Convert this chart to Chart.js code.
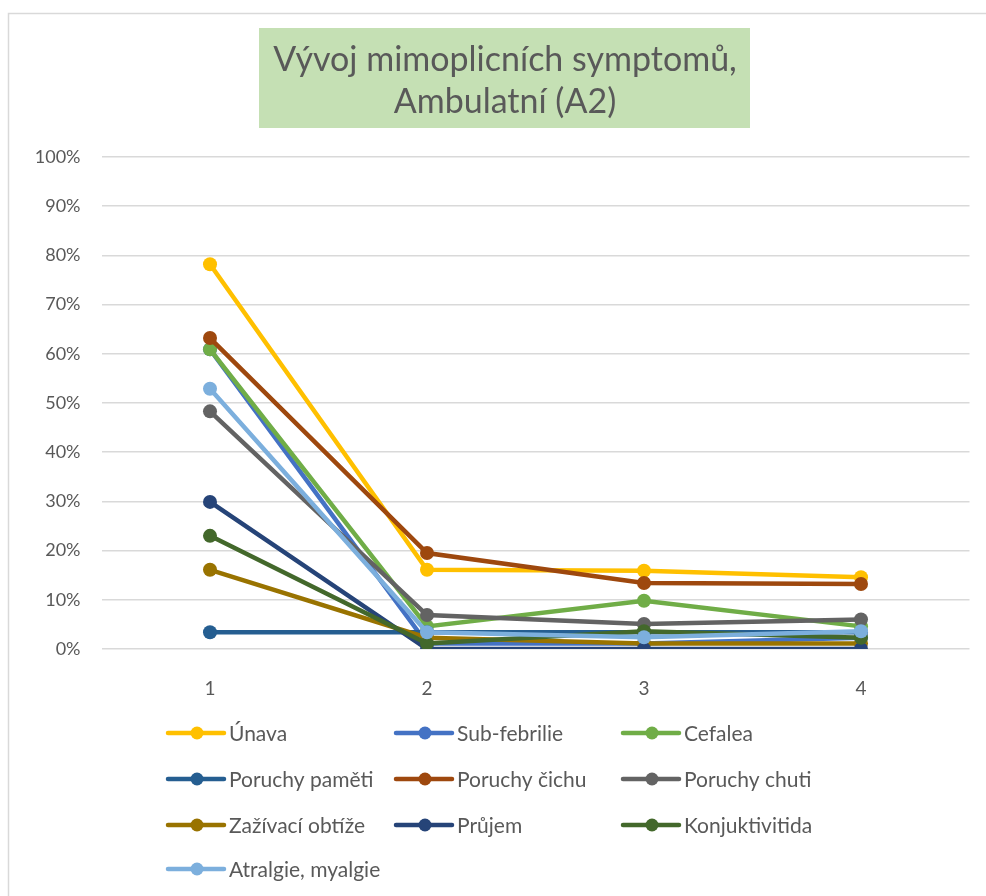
<!DOCTYPE html>
<html>
<head>
<meta charset="utf-8">
<script src="https://cdn.jsdelivr.net/npm/chart.js@4/dist/chart.umd.min.js"></script>
<style>
  html, body { margin: 0; padding: 0; background: #ffffff; }
  #wrap { width: 986px; height: 896px; position: relative; }
</style>
</head>
<body>
<div id="wrap"><canvas id="c" width="986" height="896"></canvas></div>
<script>
// Time points (visits)
const categories = ['1', '2', '3', '4'];

// Share of patients with each symptom, in percent
const unava      = [78.2, 16.1, 15.9, 14.6];
const subFebrilie = [60.9, 1.1, 1.1, 2.3];
const cefalea    = [60.9, 4.6, 9.8, 4.6];
const poruchyPameti = [3.4, 3.4, 3.4, 3.4];
const poruchyCichu  = [63.2, 19.5, 13.4, 13.2];
const poruchyChuti  = [48.3, 6.9, 5.1, 6.0];
const zazivaciObtize = [16.1, 2.3, 1.1, 1.1];
const prujem     = [29.9, 0.0, 0.0, 0.0];
const konjuktivitida = [23.0, 1.1, 3.6, 2.3];
const atralgie   = [52.9, 3.4, 2.4, 3.6];

const seriesNames = ['Únava', 'Sub-febrilie', 'Cefalea', 'Poruchy paměti', 'Poruchy čichu',
  'Poruchy chuti', 'Zažívací obtíže', 'Průjem', 'Konjuktivitida', 'Atralgie, myalgie'];
const seriesValues = [unava, subFebrilie, cefalea, poruchyPameti, poruchyCichu,
  poruchyChuti, zazivaciObtize, prujem, konjuktivitida, atralgie];
const seriesColors = ['#FFC000', '#4472C4', '#70AD47', '#255E91', '#9E480E',
  '#636363', '#997300', '#264478', '#43682B', '#7CAFDD'];

const FONT = 'Lato, "Open Sans", sans-serif';
const TEXT = '#595959';
const GRID = '#D9D9D9';

const datasets = seriesNames.map((name, i) => ({
  label: name,
  data: seriesValues[i],
  borderColor: seriesColors[i],
  backgroundColor: seriesColors[i],
  borderWidth: 4.5,
  pointRadius: 7,
  pointHoverRadius: 7,
  pointBorderWidth: 0,
  tension: 0,
  // later series sit on top of earlier ones
  order: seriesNames.length - i
}));

// Outer frame, boxed title and grid legend
const decorations = {
  id: 'decorations',
  beforeDraw(chart) {
    const ctx = chart.ctx;
    ctx.save();
    ctx.fillStyle = '#ffffff';
    ctx.fillRect(0, 0, chart.width, chart.height);
    ctx.strokeStyle = GRID;
    ctx.lineWidth = 1.5;
    ctx.beginPath();
    ctx.moveTo(8.5, chart.height + 5);
    ctx.lineTo(8.5, 13.5);
    ctx.lineTo(chart.width + 5, 13.5);
    ctx.stroke();

    // title box
    ctx.fillStyle = '#C5E0B4';
    ctx.fillRect(259, 28, 491, 100);
    ctx.fillStyle = TEXT;
    ctx.font = '34px ' + FONT;
    ctx.textAlign = 'center';
    ctx.textBaseline = 'middle';
    ctx.fillText('Vývoj mimoplicních symptomů,', 505, 60);
    ctx.fillText('Ambulatní (A2)', 505, 102);
    ctx.restore();
  },
  afterDraw(chart) {
    const ctx = chart.ctx;
    const colX = [168, 396, 623];
    const rowY = [733, 779, 825, 869];
    ctx.save();
    ctx.font = '21px ' + FONT;
    ctx.textAlign = 'left';
    ctx.textBaseline = 'middle';
    chart.data.datasets.forEach((ds, i) => {
      const x = colX[i % 3];
      const y = rowY[Math.floor(i / 3)];
      ctx.strokeStyle = ds.borderColor;
      ctx.lineWidth = 4.5;
      ctx.lineCap = 'round';
      ctx.beginPath();
      ctx.moveTo(x, y);
      ctx.lineTo(x + 56, y);
      ctx.stroke();
      ctx.fillStyle = ds.backgroundColor;
      ctx.beginPath();
      ctx.arc(x + 29, y, 6.5, 0, Math.PI * 2);
      ctx.fill();
      ctx.fillStyle = TEXT;
      ctx.fillText(ds.label, x + 61, y + 1);
    });
    ctx.restore();
  }
};

new Chart(document.getElementById('c'), {
  type: 'line',
  data: { labels: categories, datasets },
  plugins: [decorations],
  options: {
    responsive: false,
    animation: false,
    layout: { padding: { top: 157, left: 0, right: 16.5, bottom: 0 } },
    plugins: {
      legend: { display: false },
      title: { display: false },
      tooltip: { enabled: false }
    },
    scales: {
      x: {
        offset: true,
        grid: { display: false },
        border: { display: false },
        ticks: { color: TEXT, font: { family: FONT, size: 19 }, padding: 20 },
        afterFit(scale) { scale.height = 896 - 649; }
      },
      y: {
        min: 0,
        max: 100,
        ticks: {
          stepSize: 10,
          color: TEXT,
          font: { family: FONT, size: 18 },
          padding: 21,
          callback: v => v + '%'
        },
        grid: { color: GRID, lineWidth: 1.5, drawTicks: false },
        border: { display: false },
        afterFit(scale) { scale.width = 101.5; }
      }
    }
  }
});
</script>
</body>
</html>
